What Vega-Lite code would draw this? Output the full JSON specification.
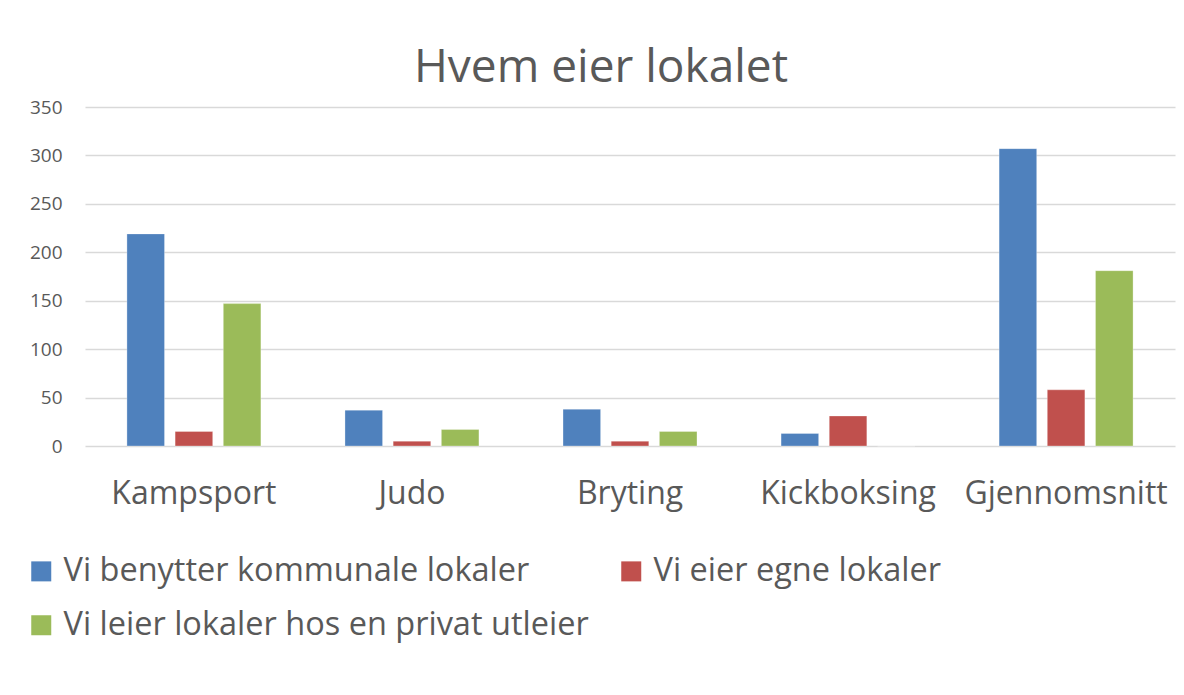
{
  "$schema": "https://vega.github.io/schema/vega-lite/v6.json",
  "width": 1090,
  "height": 339,
  "autosize": {"type": "none"},
  "padding": {"left": 85, "top": 107, "right": 9, "bottom": 249},
  "background": "white",
  "title": {
    "text": "Hvem eier lokalet",
    "font": "Open Sans",
    "fontSize": 46,
    "fontWeight": "normal",
    "color": "#595959",
    "anchor": "middle",
    "dx": -29,
    "offset": 6
  },
  "data": {
    "values": [
      {"kategori": "Kampsport", "serie": "Vi benytter kommunale lokaler", "antall": 219},
      {"kategori": "Kampsport", "serie": "Vi eier egne lokaler", "antall": 15},
      {"kategori": "Kampsport", "serie": "Vi leier lokaler hos en privat utleier", "antall": 147},
      {"kategori": "Judo", "serie": "Vi benytter kommunale lokaler", "antall": 37},
      {"kategori": "Judo", "serie": "Vi eier egne lokaler", "antall": 5},
      {"kategori": "Judo", "serie": "Vi leier lokaler hos en privat utleier", "antall": 17},
      {"kategori": "Bryting", "serie": "Vi benytter kommunale lokaler", "antall": 38},
      {"kategori": "Bryting", "serie": "Vi eier egne lokaler", "antall": 5},
      {"kategori": "Bryting", "serie": "Vi leier lokaler hos en privat utleier", "antall": 15},
      {"kategori": "Kickboksing", "serie": "Vi benytter kommunale lokaler", "antall": 13},
      {"kategori": "Kickboksing", "serie": "Vi eier egne lokaler", "antall": 31},
      {"kategori": "Kickboksing", "serie": "Vi leier lokaler hos en privat utleier", "antall": 0},
      {"kategori": "Gjennomsnitt", "serie": "Vi benytter kommunale lokaler", "antall": 307},
      {"kategori": "Gjennomsnitt", "serie": "Vi eier egne lokaler", "antall": 58},
      {"kategori": "Gjennomsnitt", "serie": "Vi leier lokaler hos en privat utleier", "antall": 181}
    ]
  },
  "mark": {"type": "bar", "stroke": "white", "strokeWidth": 0.6, "strokeOpacity": 0.5},
  "encoding": {
    "x": {
      "field": "kategori",
      "type": "nominal",
      "sort": ["Kampsport", "Judo", "Bryting", "Kickboksing", "Gjennomsnitt"],
      "scale": {"paddingInner": 0.337, "paddingOuter": 0.168},
      "axis": {
        "title": null,
        "labelAngle": 0,
        "labelFont": "Open Sans",
        "labelFontSize": 32,
        "labelColor": "#595959",
        "labelPadding": 32,
        "labelLimit": 400,
        "labelOverlap": false,
        "ticks": false,
        "domain": false
      }
    },
    "xOffset": {
      "field": "serie",
      "type": "nominal",
      "sort": ["Vi benytter kommunale lokaler", "Vi eier egne lokaler", "Vi leier lokaler hos en privat utleier"],
      "scale": {"paddingInner": 0.22, "paddingOuter": 0.11}
    },
    "y": {
      "field": "antall",
      "type": "quantitative",
      "scale": {"domain": [0, 350], "nice": false},
      "axis": {
        "title": null,
        "values": [0, 50, 100, 150, 200, 250, 300, 350],
        "labelFont": "Open Sans",
        "labelFontSize": 19,
        "labelColor": "#595959",
        "labelPadding": 23,
        "ticks": false,
        "domain": false,
        "gridColor": "#d9d9d9",
        "gridWidth": 1.3
      }
    },
    "color": {
      "field": "serie",
      "type": "nominal",
      "sort": ["Vi benytter kommunale lokaler", "Vi eier egne lokaler", "Vi leier lokaler hos en privat utleier"],
      "scale": {
        "domain": ["Vi benytter kommunale lokaler", "Vi eier egne lokaler", "Vi leier lokaler hos en privat utleier"],
        "range": ["#4F81BD", "#C0504D", "#9BBB59"]
      },
      "legend": {
        "title": null,
        "orient": "none",
        "legendX": -60,
        "legendY": 448,
        "direction": "horizontal",
        "columns": 2,
        "symbolType": "square",
        "symbolSize": 400,
        "symbolStrokeWidth": 0,
        "labelFont": "Open Sans",
        "labelFontSize": 32.5,
        "labelColor": "#595959",
        "labelOffset": 6,
        "labelLimit": 700,
        "columnPadding": 26,
        "rowPadding": 21
      }
    }
  },
  "config": {
    "view": {"stroke": null}
  }
}
